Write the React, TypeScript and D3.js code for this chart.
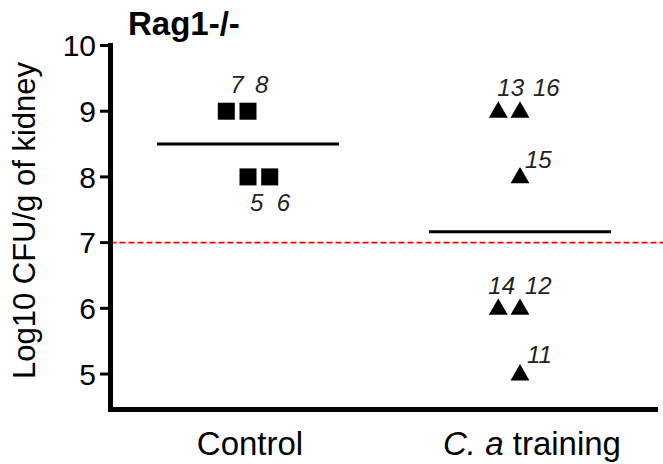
import React from "react";
import * as d3 from "d3";

const categories = ["Control", "C. a training"];
const title = "Rag1-/-";
const yLabel = "Log10 CFU/g of kidney";
const yTicks = [5, 6, 7, 8, 9, 10];
const threshold = 7;

// individual animals
const animalIds = ["7", "8", "5", "6", "13", "16", "15", "14", "12", "11"];
const animalGroup = [0, 0, 0, 0, 1, 1, 1, 1, 1, 1];
const animalValue = [9, 9, 8, 8, 9, 9, 8, 6, 6, 5];
// column-scatter slot (GraphPad-style horizontal spread)
const animalSlot = [-1, 0, 0, 1, -1, 0, 0, -1, 0, 0];

// layout (pixel nudges of the ID labels relative to their marker)
const labelDx = [4, 7, 2, 7, -1, 13, 5, -10, 5, 7];
const labelDy = [-18, -18, 34, 34, -15, -15, -9, -14, -14, -11];

const W = 663;
const H = 464;

export default function App() {
  const x = d3.scaleBand<string>().domain(categories).range([112, 656]);
  const y = d3.scaleLinear().domain([4.46, 10]).range([409.5, 45.5]);
  const axisX = 110.5;
  const slotW = 21.7;

  const groupMeans = categories.map((_, g) =>
    d3.mean(animalValue.filter((_, i) => animalGroup[i] === g)) as number
  );

  const cx = (i: number) =>
    (x(categories[animalGroup[i]]) as number) + x.bandwidth() / 2 + animalSlot[i] * slotW;
  const cy = (i: number) => y(animalValue[i]);

  const font = "'Liberation Sans', Arial, sans-serif";
  const tri = d3.symbol().type(d3.symbolTriangle).size(155);

  return (
    <svg
      width={W}
      height={H}
      style={{ position: "absolute", left: 0, top: 0, background: "#fff" }}
      fontFamily={font}
    >
      {/* title */}
      <text x={128} y={35} fontSize={33} fontWeight="bold">
        {title}
      </text>

      {/* y axis label */}
      <text
        transform={`translate(35, ${(58 + 383) / 2}) rotate(-90)`}
        textAnchor="middle"
        fontSize={31}
      >
        {yLabel}
      </text>

      {/* threshold line */}
      <line
        x1={axisX}
        x2={W}
        y1={y(threshold)}
        y2={y(threshold)}
        stroke="#ff0000"
        strokeWidth={1.8}
        strokeDasharray="6,3"
      />

      {/* y axis */}
      <line x1={axisX} x2={axisX} y1={y(10) - 2.5} y2={y(4.46) + 2.5} stroke="#000" strokeWidth={5} />
      {yTicks.map((t) => (
        <g key={t}>
          <line x1={100} x2={axisX} y1={y(t)} y2={y(t)} stroke="#000" strokeWidth={3} />
          <text x={96} y={y(t)} dy="0.36em" textAnchor="end" fontSize={30}>
            {t}
          </text>
        </g>
      ))}

      {/* x axis */}
      <line x1={axisX - 2.5} x2={658} y1={y(4.46)} y2={y(4.46)} stroke="#000" strokeWidth={5} />
      {categories.map((c, g) => {
        const mx = (x(c) as number) + x.bandwidth() / 2;
        return (
          <text key={c} x={g === 0 ? mx + 2 : mx + 12} y={455} textAnchor="middle" fontSize={33}>
            {g === 0 ? (
              c
            ) : (
              <>
                <tspan fontStyle="italic">C. a</tspan> training
              </>
            )}
          </text>
        );
      })}

      {/* mean lines */}
      {categories.map((c, g) => {
        const mx = (x(c) as number) + x.bandwidth() / 2;
        return (
          <line
            key={c}
            x1={mx - 91}
            x2={mx + 91}
            y1={y(groupMeans[g])}
            y2={y(groupMeans[g])}
            stroke="#000"
            strokeWidth={3}
          />
        );
      })}

      {/* points */}
      {animalIds.map((id, i) =>
        animalGroup[i] === 0 ? (
          <rect key={id} x={cx(i) - 8.5} y={cy(i) - 8.5} width={17} height={17} fill="#000" />
        ) : (
          <path key={id} d={tri() as string} transform={`translate(${cx(i)}, ${cy(i) + 1})`} fill="#000" />
        )
      )}

      {/* ID labels */}
      {animalIds.map((id, i) => (
        <text
          key={"l" + id}
          x={cx(i) + labelDx[i]}
          y={cy(i) + labelDy[i]}
          fontSize={24}
          fontStyle="italic"
          fill="#222"
        >
          {id}
        </text>
      ))}
    </svg>
  );
}
